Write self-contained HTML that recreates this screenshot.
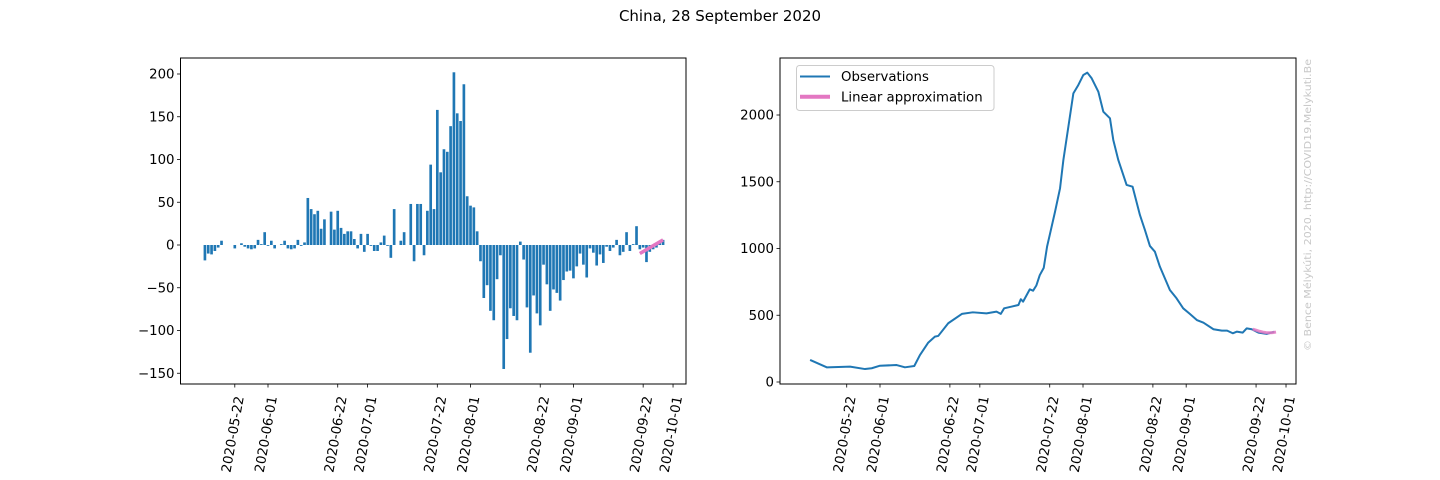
<!DOCTYPE html>
<html><head><meta charset="utf-8"><style>
html,body{margin:0;padding:0;background:#fff;}
svg{display:block;font-family:"DejaVu Sans","Liberation Sans",sans-serif;}
</style></head><body>
<svg id="fig" width="1440" height="480" viewBox="0 0 1440 480">
<text x="720" y="21" text-anchor="middle" font-size="15" fill="#000">China, 28 September 2020</text>
<g id="left"></g>
<g id="right"></g>
<text transform="translate(1311,351) rotate(-90)" font-size="10" fill="#c8c8c8" textLength="292" lengthAdjust="spacingAndGlyphs">© Bence Mélykúti, 2020. http://COVID19.Melykuti.Be</text>
</svg>
<script>
// day index 0 = 2020-05-13
const barValues = [-18,-10,-11,-7,-3,5,0,0,0,-4,0,2,-2,-4,-5,-4,6,1,15,-1,5,-4,0,1,5,-4,-5,-4,6,-1,3,55,42,36,40,19,30,0,39,18,40,20,13,16,16,7,
-4,13,-8,13,-1,-7,-7,3,11,-1,-15,42,0,5,15,0,48,-19,48,48,-12,40,94,42,158,85,112,109,139,202,154,145,188,57,46,44,16,-19,
-62,-47,-77,-88,-40,-12,-145,-110,-74,-83,-88,4,-17,-73,-126,-59,-80,-94,-23,-46,-77,-52,-56,-65,-41,-31,-30,-39,-25,-10,-23,-38,-4,-9,-24,-11,-21,-2,-7,-3,6,-12,-8,15,-7,1,22,-5,-3,-20,-8,-5,-3,2,6];
const barApproxDays = [131,138];
const barApproxValues = [-10,6];
const lineDays = [-2,3,10,14.5,16.5,19,24,26.5,29.3,31,33.5,35.5,36.5,39.5,43.6,46.9,51,54,55.3,56.3,58.6,60.6,61.3,62,64,65,66,67,68.2,69.2,70.1,71.6,73.1,74.1,75.6,77.1,78.6,80.1,81.3,82.6,84.6,86.1,88.1,89.1,90.6,93.1,94.9,97.1,98.6,100.1,101.6,103.1,106.1,108.1,110.1,112.1,114.2,116.2,119.2,121.7,123.3,125,126.2,128,129.2,130.7,132.7,135.2,137.5];
const lineValues = [165,110,115,97,103,122,127,110,120,202,295,340,345,440,510,522,514,527,510,552,565,577,620,602,694,684,724,800,855,1014,1112,1276,1451,1663,1912,2162,2225,2300,2317,2275,2175,2025,1975,1813,1663,1476,1463,1251,1139,1019,976,864,689,627,552,510,464,444,395,385,385,365,377,370,402,395,370,360,377];
const lineApproxDays = [131,132,133,134,135,136,137,138];
const lineApproxValues = [396,388,380,374,370,369,370,374];
const tickLabels = ["2020-05-22","2020-06-01","2020-06-22","2020-07-01","2020-07-22","2020-08-01","2020-08-22","2020-09-01","2020-09-22","2020-10-01"];
const tickDays = [9,19,40,49,70,80,101,111,132,141];
const leftYTicks = [-150,-100,-50,0,50,100,150,200];
const rightYTicks = [0,500,1000,1500,2000];

const NS="http://www.w3.org/2000/svg";
function mk(parent,tag,attrs){const e=document.createElementNS(NS,tag);for(const k in attrs)e.setAttribute(k,attrs[k]);parent.appendChild(e);return e;}

function axes(g,L,R,T,B,xOf,yOf,yTicks,prefix){
  const f=mk(g,'rect',{x:L,y:T,width:R-L,height:B-T,fill:'none',stroke:'#000','stroke-width':1});
  
  
  yTicks.forEach(v=>{
    const y=yOf(v);
    const t=mk(g,'line',{x1:L-3.5,x2:L,y1:y,y2:y,stroke:'#000','stroke-width':0.8});
    
    
    const tx=mk(g,'text',{x:L-6,y:y+4.6,'text-anchor':'end','font-size':13.3,fill:'#000'});
    tx.textContent=String(v).replace('-','−');
    
    
  });
  tickDays.forEach((d,i)=>{
    const x=xOf(d);
    const t=mk(g,'line',{x1:x,x2:x,y1:B,y2:B+3.5,stroke:'#000','stroke-width':0.8});
    
    
    const tx=mk(g,'text',{transform:`translate(${x+9},${B+13}) rotate(-80)`,'text-anchor':'end','font-size':13.3,fill:'#000'});
    tx.textContent=tickLabels[i];
    
    
  });
}

// Left chart
(function(){
  const g=document.getElementById('left');
  const L=180.5,R=686,T=58,B=384;
  const xOf=d=>268+3.32*(d-19);
  const yOf=v=>245-0.855*v;
  barValues.forEach((v,i)=>{
    const x=xOf(i), y0=yOf(0), y1=yOf(v);
    const r=mk(g,'rect',{x:x-1.33,y:Math.min(y0,y1),width:2.66,height:Math.abs(y1-y0),fill:'#1f77b4'});
    
    
  });
  const p=mk(g,'polyline',{points:barApproxDays.map((d,i)=>xOf(d)+','+yOf(barApproxValues[i])).join(' '),fill:'none',stroke:'#e377c2','stroke-width':3.5});
  
  
  axes(g,L,R,T,B,xOf,yOf,leftYTicks,'left');
})();

// Right chart
(function(){
  const g=document.getElementById('right');
  const L=780,R=1296,T=58,B=384;
  const xOf=d=>880+3.328*(d-19);
  const yOf=v=>382-0.1335*v;
  const l=mk(g,'polyline',{points:lineDays.map((d,i)=>xOf(d)+','+yOf(lineValues[i])).join(' '),fill:'none',stroke:'#1f77b4','stroke-width':2,'stroke-linejoin':'round'});
  
  
  const p=mk(g,'polyline',{points:lineApproxDays.map((d,i)=>xOf(d)+','+yOf(lineApproxValues[i])).join(' '),fill:'none',stroke:'#e377c2','stroke-width':3,opacity:0.85});
  
  
  axes(g,L,R,T,B,xOf,yOf,rightYTicks,'right');
  const lg=mk(g,'g',{});
  
  
  mk(lg,'rect',{x:796.5,y:65.5,width:197.5,height:45,rx:3,fill:'#fff','fill-opacity':0.8,stroke:'#ccc','stroke-width':1});
  mk(lg,'line',{x1:800,x2:830,y1:76.5,y2:76.5,stroke:'#1f77b4','stroke-width':2});
  const t1=mk(lg,'text',{x:841,y:81,'font-size':13.3,fill:'#000'});t1.textContent='Observations';
  
  
  mk(lg,'line',{x1:800,x2:830,y1:96.7,y2:96.7,stroke:'#e377c2','stroke-width':4});
  const t2=mk(lg,'text',{x:841,y:101.5,'font-size':13.3,fill:'#000'});t2.textContent='Linear approximation';
  
  
})();
</script>
</body></html>
